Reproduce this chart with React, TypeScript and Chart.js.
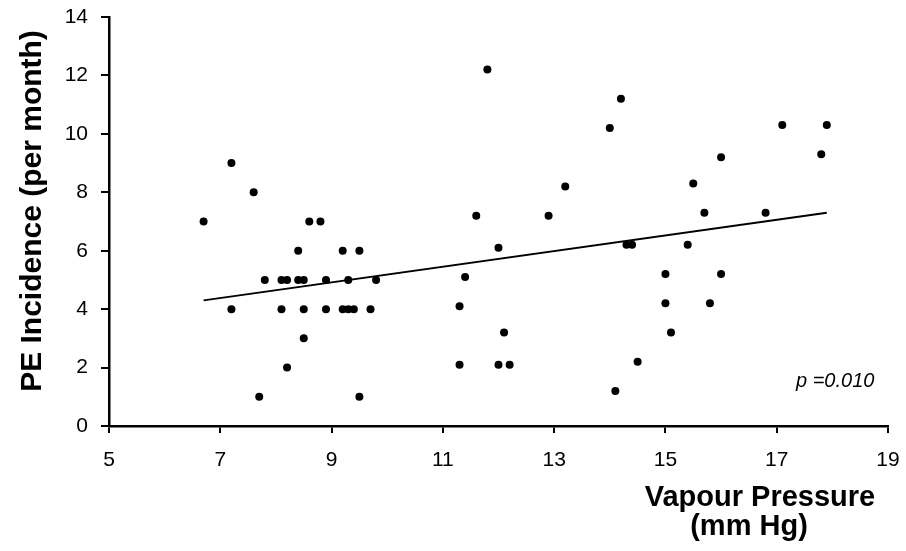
import React, { useEffect, useRef } from "react";
import { Chart, registerables } from "chart.js";

Chart.register(...registerables);

// Vapour pressure (mm Hg) of each month
const vapourPressure: number[] = [
  6.7, 7.2, 7.6, 7.2, 7.7, 7.8, 8.1, 8.1, 8.2, 8.2, 8.4, 8.4, 8.5, 8.5, 8.5, 8.6, 8.8, 8.9, 8.9, 9.2,
  9.3, 9.2, 9.3, 9.4, 9.5, 9.5, 9.7, 9.8,
  11.8, 14.2, 14.0, 13.2, 11.6, 12.9, 12.0, 14.3, 14.4, 11.4, 11.3, 12.1, 11.3, 12.0, 12.2, 15.0,
  15.0, 15.1, 14.5, 14.1,
  17.1, 17.9, 16.0, 17.8, 15.5, 15.7, 16.8, 15.4, 16.0, 15.8,
];

// PE incidence for the same months
const peIncidence: number[] = [
  7, 9, 8, 4, 1, 5, 4, 5, 5, 2, 6, 5, 5, 4, 3, 7, 7, 5, 4, 6,
  5, 4, 4, 4, 6, 1, 4, 5,
  12.2, 11.2, 10.2, 8.2, 7.2, 7.2, 6.1, 6.2, 6.2, 5.1, 4.1, 3.2, 2.1, 2.1, 2.1, 5.2,
  4.2, 3.2, 2.2, 1.2,
  10.3, 10.3, 9.2, 9.3, 8.3, 7.3, 7.3, 6.2, 5.2, 4.2,
];

// Least-squares fit line end points
const fitX: number[] = [6.7, 17.9];
const fitY: number[] = [4.3, 7.3];

const xTicks: number[] = [5, 7, 9, 11, 13, 15, 17, 19];
const yTicks: number[] = [0, 2, 4, 6, 8, 10, 12, 14];

const yTitle = "PE Incidence (per month)";
const xTitleLines: string[] = ["Vapour Pressure", "(mm Hg)"];
const pLabel = "p =0.010";

const FONT = "'Liberation Sans', Arial, Helvetica, sans-serif";

const textPlugin = {
  id: "axisTexts",
  afterDraw(chart: Chart) {
    const ctx = chart.ctx;
    ctx.save();
    ctx.fillStyle = "#000";
    // y-axis title, rotated
    ctx.font = `bold 30px ${FONT}`;
    ctx.textAlign = "center";
    ctx.textBaseline = "middle";
    ctx.translate(33, 211);
    ctx.rotate(-Math.PI / 2);
    ctx.fillText(yTitle, 0, 0);
    ctx.restore();

    ctx.save();
    ctx.fillStyle = "#000";
    ctx.font = `bold 29px ${FONT}`;
    ctx.textAlign = "center";
    ctx.textBaseline = "middle";
    ctx.fillText(xTitleLines[0], 760, 498);
    ctx.fillText(xTitleLines[1], 749, 527);

    ctx.font = `italic 20px ${FONT}`;
    ctx.textAlign = "left";
    ctx.fillText(pLabel, 796, 381);
    ctx.restore();
  },
};

export default function App() {
  const canvasRef = useRef<HTMLCanvasElement | null>(null);

  useEffect(() => {
    if (!canvasRef.current) return;
    const points = vapourPressure.map((x, i) => ({ x, y: peIncidence[i] }));
    const fit = fitX.map((x, i) => ({ x, y: fitY[i] }));

    const chart = new Chart(canvasRef.current, {
      type: "scatter",
      data: {
        datasets: [
          {
            data: points,
            backgroundColor: "#000",
            borderColor: "#000",
            pointRadius: 4,
            pointBorderWidth: 0,
          },
          {
            data: fit,
            showLine: true,
            borderColor: "#000",
            borderWidth: 2,
            pointRadius: 0,
            fill: false,
          } as any,
        ],
      },
      plugins: [textPlugin],
      options: {
        responsive: false,
        animation: false,
        layout: { padding: { left: 0, top: 17, right: 18, bottom: 0 } },
        plugins: {
          legend: { display: false },
          tooltip: { enabled: false },
        },
        scales: {
          x: {
            type: "linear",
            min: 5,
            max: 19,
            afterBuildTicks: (scale: any) => {
              scale.ticks = xTicks.map((v) => ({ value: v }));
            },
            afterFit: (scale: any) => {
              scale.height = 125;
              scale.paddingLeft = 0;
              scale.paddingRight = 0;
            },
            ticks: {
              color: "#000",
              font: { family: FONT, size: 21 },
              padding: 15,
              maxRotation: 0,
            },
            grid: {
              drawOnChartArea: false,
              drawTicks: true,
              tickLength: 7,
              color: "#000",
              lineWidth: 2,
            },
            border: { display: true, color: "#000", width: 2.5 },
          },
          y: {
            type: "linear",
            min: 0,
            max: 14,
            afterBuildTicks: (scale: any) => {
              scale.ticks = yTicks.map((v) => ({ value: v }));
            },
            afterFit: (scale: any) => {
              scale.width = 109;
              scale.paddingTop = 0;
              scale.paddingBottom = 0;
            },
            ticks: {
              color: "#000",
              font: { family: FONT, size: 21 },
              padding: 13,
            },
            grid: {
              drawOnChartArea: false,
              drawTicks: true,
              tickLength: 8,
              color: "#000",
              lineWidth: 2,
            },
            border: { display: true, color: "#000", width: 2.5 },
          },
        },
      },
    });
    return () => chart.destroy();
  }, []);

  return (
    <div
      style={{
        position: "fixed",
        left: 0,
        top: 0,
        width: 906,
        height: 551,
        background: "#fff",
      }}
    >
      <canvas ref={canvasRef} width={906} height={551} />
    </div>
  );
}
